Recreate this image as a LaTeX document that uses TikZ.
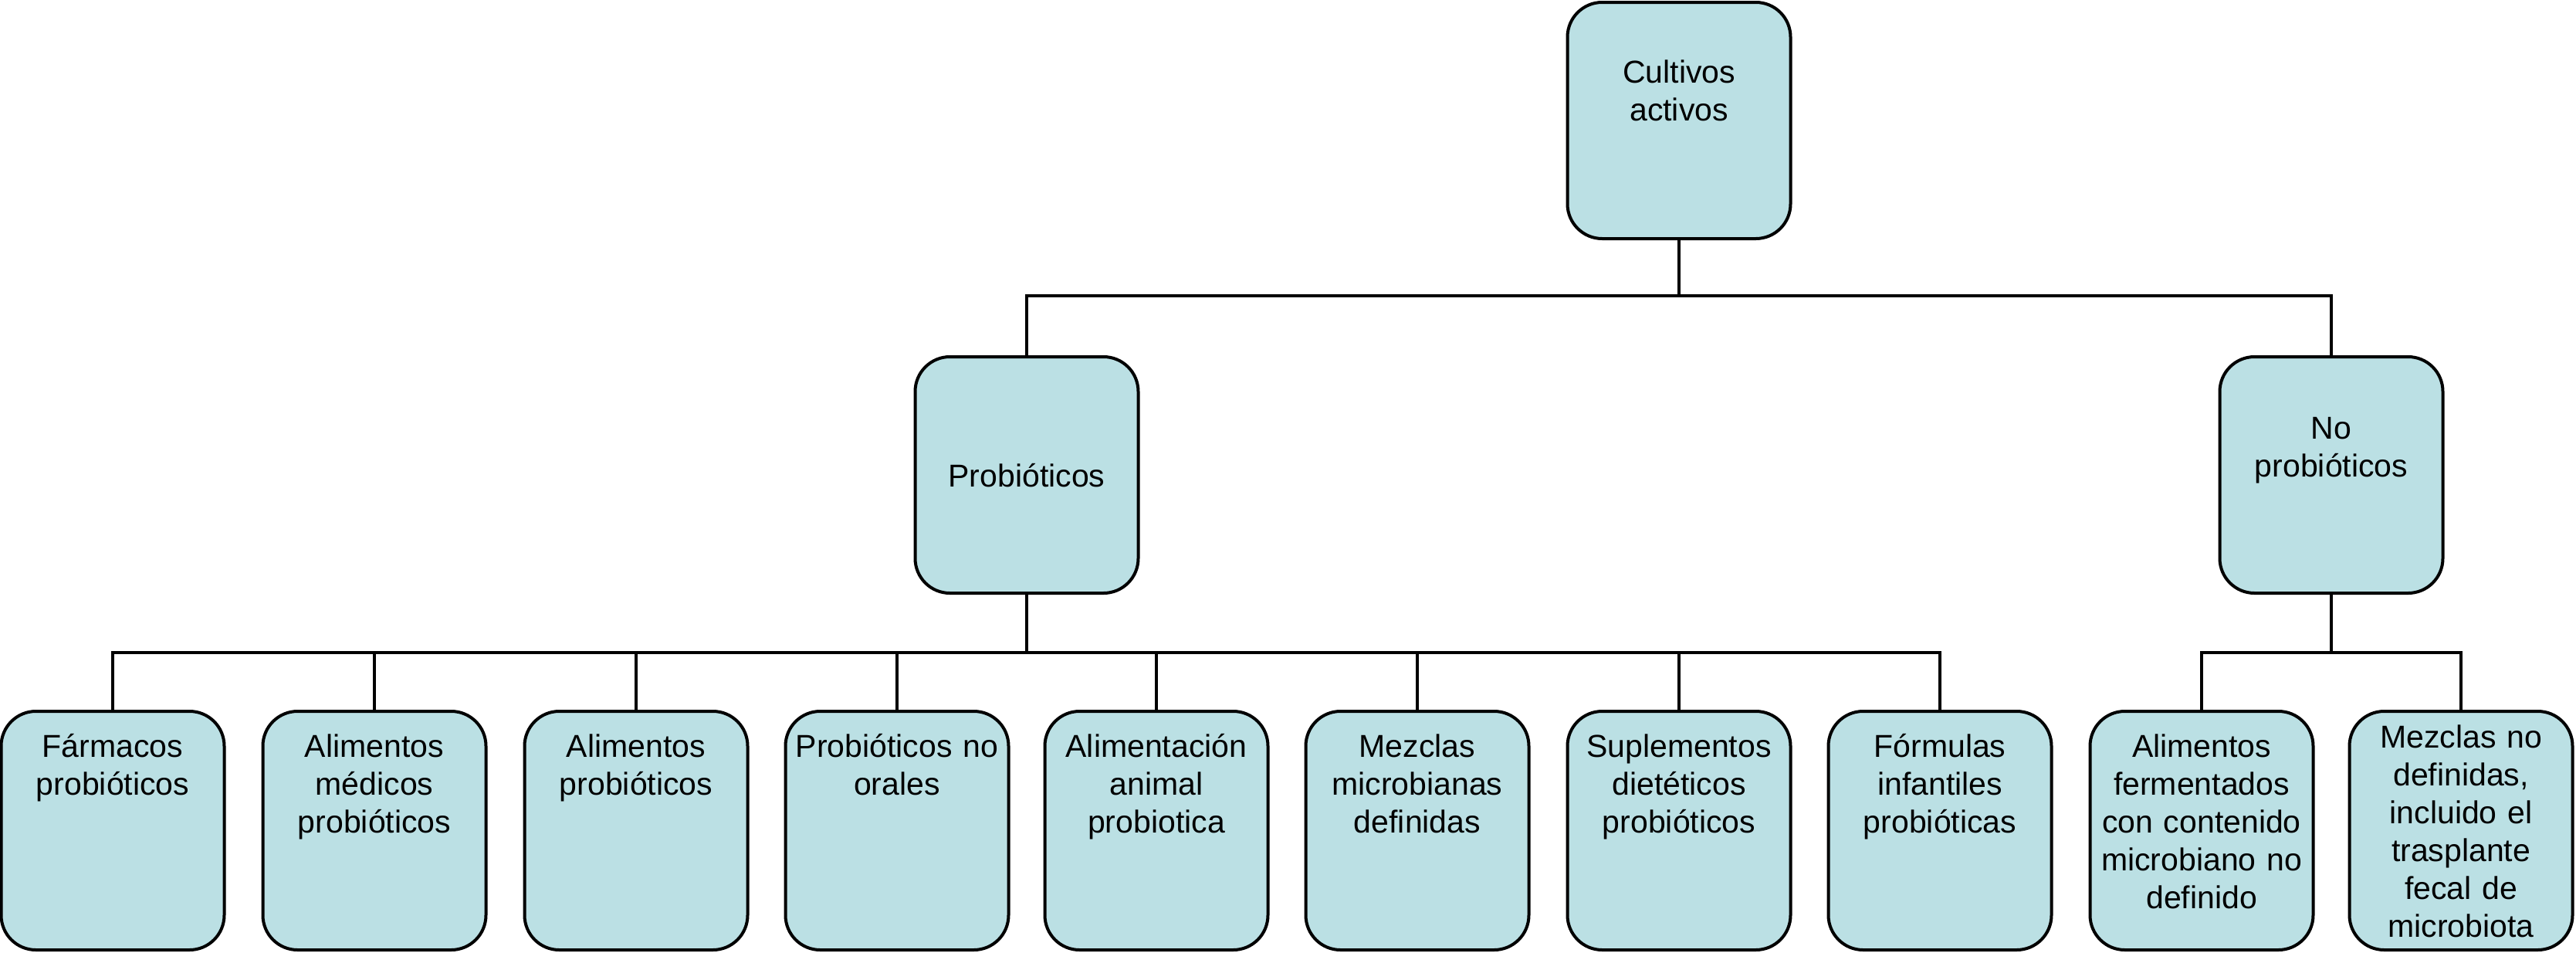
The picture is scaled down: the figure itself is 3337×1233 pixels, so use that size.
\documentclass[tikz,border=0pt]{standalone}
\usepackage{fontspec}
\setmainfont{Liberation Sans}
\definecolor{boxfill}{RGB}{187,224,228}
\begin{document}
\begin{tikzpicture}[x=0.5pt,y=-0.5pt,
  box/.style={draw=black, line width=2pt, fill=boxfill, rounded corners=22.5pt,
    minimum width=144.5pt, minimum height=153pt, inner sep=0pt},
  bbox/.style={box, minimum height=154.5pt},
  lbl/.style={anchor=north, text width=150pt, align=center, inner sep=0pt,
    font=\fontsize{20.5}{24.5}\selectfont},
  conn/.style={line width=2pt}]
\useasboundingbox (0,0) rectangle (3337,1233);
\fill[white] (0,0) rectangle (3337,1233);

% boxes
\node[box] (top) at (2175,156) {};
\node[box] (prob) at (1330,615) {};
\node[box] (noprob) at (3020,615) {};
\node[bbox] (b1) at (146,1075.5) {};
\node[bbox] (b2) at (485,1075.5) {};
\node[bbox] (b3) at (824,1075.5) {};
\node[bbox] (b4) at (1162,1075.5) {};
\node[bbox] (b5) at (1498,1075.5) {};
\node[bbox] (b6) at (1836,1075.5) {};
\node[bbox] (b7) at (2175,1075.5) {};
\node[bbox] (b8) at (2513,1075.5) {};
\node[bbox] (b9) at (2852,1075.5) {};
\node[bbox] (b10) at (3188,1075.5) {};

% texts
\node[lbl] (ttop) at (2175,73) {\strut Cultivos\\activos};
\node[lbl] (tprob) at (1330,596) {\strut Probióticos};
\node[lbl] (tnoprob) at (3020,534) {\strut No\\probióticos};
\node[lbl] (t1) at (146,946) {\strut Fármacos\\probióticos};
\node[lbl] (t2) at (485,946) {\strut Alimentos\\médicos\\probióticos};
\node[lbl] (t3) at (824,946) {\strut Alimentos\\probióticos};
\node[lbl] (t4) at (1162,946) {\strut Probióticos no\\orales};
\node[lbl] (t5) at (1498,946) {\strut Alimentación\\animal\\probiotica};
\node[lbl] (t6) at (1836,946) {\strut Mezclas\\microbianas\\definidas};
\node[lbl] (t7) at (2175,946) {\strut Suplementos\\dietéticos\\probióticos};
\node[lbl] (t8) at (2513,946) {\strut Fórmulas\\infantiles\\probióticas};
\node[lbl] (t9) at (2852,946) {\strut Alimentos\\fermentados\\con contenido\\microbiano no\\definido};
\node[lbl] (t10) at (3188,934) {\strut Mezclas no\\definidas,\\incluido el\\trasplante\\fecal de\\microbiota};

% bus coordinates
\coordinate (bus1) at (0,383);
\coordinate (bus2) at (0,845);

% connectors
\draw[conn] (top.south) -- (top.south |- bus1);
\draw[conn] (prob.north) -- (prob.north |- bus1) -- (noprob.north |- bus1) -- (noprob.north);
\draw[conn] (prob.south) -- (prob.south |- bus2);
\draw[conn] (b1.north) -- (b1.north |- bus2) -- (b8.north |- bus2) -- (b8.north);
\foreach \k in {2,...,7} {\draw[conn] (b\k.north) -- (b\k.north |- bus2);}
\draw[conn] (noprob.south) -- (noprob.south |- bus2);
\draw[conn] (b9.north) -- (b9.north |- bus2) -- (b10.north |- bus2) -- (b10.north);
\end{tikzpicture}
\end{document}
